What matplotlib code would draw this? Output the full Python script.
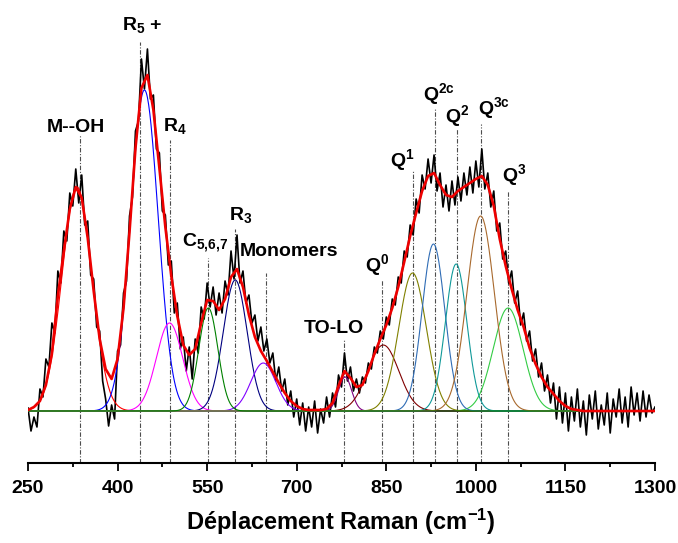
import numpy as np
import matplotlib
matplotlib.use("Agg")
import matplotlib.pyplot as plt

plt.rcParams['font.family'] = ['Liberation Sans', 'DejaVu Sans']
plt.rcParams['font.weight'] = 'bold'
plt.rcParams['mathtext.fontset'] = 'custom'
plt.rcParams['mathtext.rm'] = 'Liberation Sans:bold'
plt.rcParams['mathtext.bf'] = 'Liberation Sans:bold'
plt.rcParams['mathtext.it'] = 'Liberation Sans:bold'

# measured spectrum, read every 5 cm-1 (250 .. 1300)
raw_x = np.arange(250, 1301, 5)
raw_y = [
    3, -20, -6, -16, 22, 14, 52, 44, 88, 78,
    140, 128, 180, 170, 218, 205, 242, 208, 236, 186,
    190, 136, 132, 84, 80, 30, 12, -15, 6, -8,
    60, 66, 118, 130, 195, 214, 280, 290, 352, 322,
    362, 312, 316, 262, 258, 200, 196, 146, 150, 98,
    108, 62, 74, 40, 64, 32, 72, 58, 104, 92,
    128, 104, 124, 96, 118, 98, 130, 116, 160, 132,
    176, 128, 140, 108, 116, 88, 96, 70, 84, 60,
    72, 48, 58, 30, 44, 20, 32, 6, 20, -6,
    12, -14, 8, -20, 4, -16, 10, -22, 2, -12,
    14, -6, 18, 4, 36, 24, 58, 30, 44, 20,
    32, 18, 34, 28, 48, 42, 64, 58, 80, 72,
    94, 86, 112, 106, 134, 128, 160, 154, 186, 176,
    212, 198, 236, 222, 252, 228, 256, 220, 238, 204,
    226, 200, 230, 206, 234, 210, 238, 216, 244, 218,
    250, 224, 262, 222, 238, 204, 220, 180, 188, 152,
    160, 128, 140, 108, 120, 86, 98, 70, 80, 50,
    62, 34, 48, 20, 36, 8, 28, -8, 24, -12,
    18, -20, 14, -10, 22, -16, 10, -24, 16, -8,
    20, -18, 6, -14, 18, -22, 12, -6, 22, -12,
    14, -16, 24, -4, 18, -10, 20, -6, 16, -2,
    4,
]

# cumulative fit, read every 10 cm-1
fit_x = np.arange(250, 1301, 10)
fit_y = [
    1, 4, 10, 26, 57, 115, 160, 202, 224, 213,
    173, 120, 72, 42, 32, 52, 103, 179, 263, 323,
    336, 301, 243, 184, 135, 95, 66, 56, 62, 88,
    111, 110, 101, 112, 134, 142, 124, 96, 74, 60,
    50, 39, 28, 18, 10, 5, 2, 1, 1, 1,
    2, 8, 25, 40, 33, 24, 26, 40, 57, 72,
    86, 103, 124, 149, 175, 198, 220, 235, 238, 226,
    216, 214, 220, 224, 228, 232, 235, 226, 205, 172,
    145, 122, 101, 84, 63, 47, 34, 24, 17, 10,
    5, 2, 1, 0, 0, 0, 0, 0, 0, 0,
    0, 0, 0, 0, 0, 0,
]

# gaussian components: centre, height, width (sigma)
comp_centre = [1054, 332, 445, 487, 597, 644, 781, 845, 894, 929, 967, 1008, 552]
comp_height = [103, 224, 321, 88, 131, 48, 34, 66, 138, 167, 147, 195, 103]
comp_sigma = [25, 25, 23, 22, 20, 21, 11, 26, 23, 19, 18, 23, 16]
comp_color = ['#33cc44', '#ff0000', '#0000ff', '#ff00ff', '#000080', '#8000ff',
              '#800080', '#800000', '#808000', '#2f6cb5', '#109999', '#a8692d',
              '#008000']

# band labels: text, text x, text y, marker line x, marker line top
labels = [r'M--OH', r'R$_5$ +', r'R$_4$', r'C$_{5{,}6{,}7}$', r'R$_3$', 'Monomers',
          'TO-LO', r'Q$^0$', r'Q$^1$', r'Q$^{2c}$', r'Q$^2$', r'Q$^{3c}$', r'Q$^3$']
label_x = [282, 407, 476, 508, 587, 605, 711, 815, 857, 912, 948, 1004, 1043]
label_y = [279, 381, 280, 164, 191, 155, 78, 140, 245, 311, 289, 297, 230]
line_x = [337, 438, 488, 552, 597, 649, 780, 843, 894, 931, 969, 1008, 1054]
line_top = [276, 369, 271, 153, 182, 138, 72, 131, 241, 303, 283, 287, 220]

fig = plt.figure(figsize=(6.78, 5.43), dpi=100)
ax = fig.add_axes([28 / 678, 80 / 543, 627 / 678, 463 / 543])

ax.plot(raw_x, raw_y, color='black', lw=1.2, zorder=2)

xs = np.linspace(250, 1300, 1051)
for c, h, s, col in zip(comp_centre, comp_height, comp_sigma, comp_color):
    ax.plot(xs, h * np.exp(-(xs - c) ** 2 / (2 * s ** 2)), color=col, lw=0.8, zorder=3)

ax.plot(fit_x, fit_y, color='#ee0000', lw=1.9, zorder=4)

for lx, lt in zip(line_x, line_top):
    ax.plot([lx, lx], [-52, lt], color='0.3', lw=0.8, dashes=(4, 1.5, 1, 1.5), zorder=1)

for t, tx, ty in zip(labels, label_x, label_y):
    ax.text(tx, ty, t, fontsize=14, fontweight='bold', ha='left', va='baseline', zorder=5)

ax.set_xlim(250, 1300)
ax.set_ylim(-52, 411)
for side in ['left', 'top', 'right']:
    ax.spines[side].set_visible(False)
ax.spines['bottom'].set_linewidth(1.5)
ax.set_yticks([])
ax.set_xticks(np.arange(250, 1301, 150))
ax.set_xticks(np.arange(325, 1300, 150), minor=True)
ax.tick_params(axis='x', which='major', length=6, width=1.3, pad=6, labelsize=14)
ax.tick_params(axis='x', which='minor', length=3, width=1.3)
for lab in ax.get_xticklabels():
    lab.set_fontweight('bold')

fig.text(341 / 678, 21 / 543, r'Déplacement Raman (cm$^{-1}$)', fontsize=17,
         fontweight='bold', ha='center', va='center')

fig.savefig('out.png', dpi=100)
